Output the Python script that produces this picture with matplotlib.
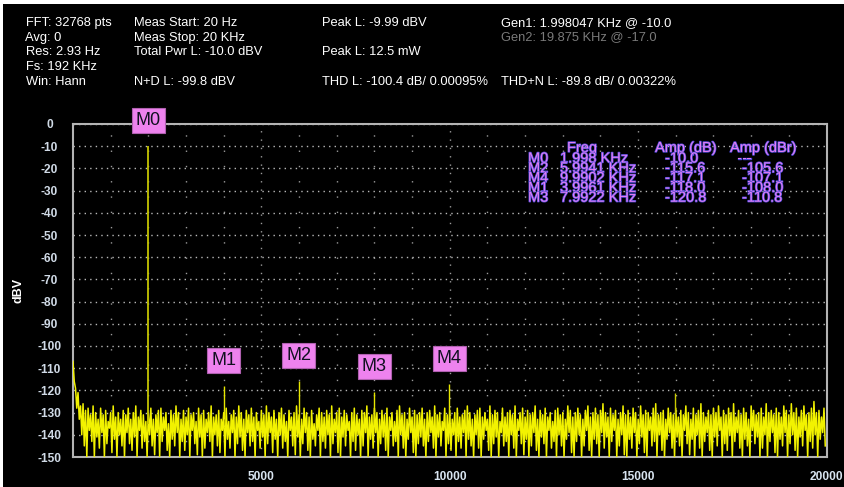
import numpy as np
import matplotlib
matplotlib.use("Agg")
import matplotlib.pyplot as plt
import matplotlib.patheffects as pe
from matplotlib.patches import Rectangle

# ---------------- data ----------------
fund_freq = 1998.047
fund_db = -10.0

marker_names = ["M0", "M1", "M2", "M3", "M4"]
marker_freq = [1998.0, 3996.1, 5994.1, 7992.2, 9990.2]
marker_db = [-10.0, -118.0, -115.6, -120.8, -117.1]

extra_spur_freq = [15984.4]
extra_spur_db = [-121.0]

# noise floor: local maxima and minima of the trace (dB), read across 0..20 kHz
noise_upper = [
    -107, -119, -121, -127, -126, -129, -128, -131, -127, -130, -133, -128, -131, -129, -134, -130, -127, -132, -130, -133,
    -129, -131, -128, -133, -130, -127, -132, -129, -131, -134, -130, -128, -133, -131, -129, -128, -132, -130, -135, -129,
    -131, -127, -130, -133, -129, -132, -128, -131, -130, -134, -128, -131, -129, -133, -130, -127, -132, -131, -129, -133,
    -130, -128, -134, -131, -129, -132, -127, -130, -133, -129, -131, -128, -132, -130, -134, -129, -131, -127, -130, -132,
    -129, -133, -130, -128, -131, -134, -129, -132, -130, -127, -131, -133, -128, -130, -132, -129, -135, -131, -128, -130,
    -132, -129, -131, -127, -133, -130, -128, -132, -129, -131, -134, -130, -128, -131, -133, -129, -130, -127, -132, -131,
    -128, -130, -133, -129, -131, -128, -132, -130, -134, -129, -127, -131, -130, -133, -128, -132, -129, -131, -130, -128,
    -133, -130, -129, -132, -127, -131, -130, -134, -128, -131, -129, -133, -130, -128, -132, -131, -129, -127, -130, -133,
    -131, -129, -128, -132, -130, -133, -127, -131, -129, -130, -134, -128, -132, -130, -129, -131, -127, -133, -130, -128,
    -132, -129, -131, -130, -127, -133, -129, -131, -128, -132, -130, -134, -129, -128, -131, -130, -133, -127, -129, -132,
    -130, -128, -131, -133, -129, -127, -132, -130, -128, -131, -129, -126, -130, -132, -128, -131, -129, -133, -130, -127,
    -131, -129, -132, -128, -130, -133, -127, -131, -129, -130, -132, -128, -126, -131, -130, -129, -133, -128, -130, -131,
    -128, -132, -129, -131, -127, -130, -133, -128, -131, -129, -126, -130, -132, -129, -131, -128, -130, -127, -132, -129,
    -131, -128, -130, -126, -132, -129, -131, -128, -130, -133, -127, -129, -131, -130, -128, -132, -126, -130, -129, -131,
    -128, -130, -132, -127, -129, -131, -126, -130, -128, -132, -129, -127, -131, -130, -128, -125, -130, -129, -132, -128,
]
noise_lower = [
    -116, -128, -133, -140, -145, -150, -138, -143, -150, -141, -146, -139, -150, -144, -137, -148, -142, -150, -140, -145,
    -150, -139, -144, -147, -141, -150, -138, -146, -143, -150, -140, -145, -149, -139, -150, -143, -138, -147, -150, -142,
    -145, -139, -150, -143, -147, -140, -150, -138, -144, -149, -141, -150, -146, -139, -143, -150, -140, -145, -148, -138,
    -150, -142, -146, -139, -150, -144, -141, -147, -150, -139, -145, -143, -150, -138, -146, -141, -150, -144, -139, -148,
    -142, -150, -140, -146, -143, -150, -138, -145, -149, -141, -150, -144, -139, -147, -150, -142, -145, -138, -150, -143,
    -146, -140, -150, -144, -139, -148, -150, -141, -145, -138, -150, -143, -147, -140, -150, -145, -139, -150, -142, -146,
    -139, -150, -144, -141, -147, -150, -138, -145, -143, -150, -140, -146, -150, -142, -139, -148, -150, -144, -141, -145,
    -150, -143, -139, -146, -150, -141, -145, -138, -150, -144, -147, -140, -150, -143, -146, -139, -150, -142, -145, -150,
    -140, -146, -150, -142, -138, -147, -150, -144, -141, -150, -139, -145, -143, -150, -140, -146, -150, -138, -144, -149,
    -142, -150, -145, -139, -147, -150, -141, -144, -150, -138, -146, -143, -150, -140, -145, -150, -142, -139, -148, -150,
    -143, -140, -150, -145, -138, -147, -150, -142, -144, -150, -139, -146, -141, -150, -143, -138, -150, -145, -140, -149,
    -150, -142, -146, -139, -150, -144, -141, -148, -150, -138, -145, -143, -150, -140, -147, -150, -142, -139, -146, -150,
    -141, -145, -150, -138, -144, -149, -142, -150, -140, -146, -150, -143, -139, -147, -150, -141, -145, -138, -150, -144,
    -147, -140, -150, -143, -139, -146, -150, -142, -145, -150, -138, -144, -141, -150, -146, -140, -150, -143, -139, -148,
    -150, -142, -145, -139, -150, -144, -140, -147, -150, -141, -145, -138, -150, -143, -146, -140, -150, -142, -139, -145,
]

x_ticks = [5000, 10000, 15000, 20000]
x_tick_labels = ["5000", "10000", "15000", "20000"]
y_ticks = list(range(0, -151, -10))

header_col1 = ["FFT: 32768 pts", "Avg: 0", "Res: 2.93 Hz", "Fs: 192 KHz", "Win: Hann"]
header_col2 = ["Meas Start: 20 Hz", "Meas Stop: 20 KHz", "Total Pwr L: -10.0 dBV", "", "N+D L: -99.8 dBV"]
header_col3 = ["Peak L: -9.99 dBV", "", "Peak L: 12.5 mW", "", "THD L: -100.4 dB/ 0.00095%"]
header_col4 = ["Gen1: 1.998047 KHz @ -10.0", "Gen2: 19.875 KHz @ -17.0", "", "", "THD+N L: -89.8 dB/ 0.00322%"]

table_names = ["M0", "M2", "M4", "M1", "M3"]
table_freq = ["1.998 KHz", "5.9941 KHz", "9.9902 KHz", "3.9961 KHz", "7.9922 KHz"]
table_amp = ["-10.0", "-115.6", "-117.1", "-118.0", "-120.8"]
table_dbr = ["---", "-105.6", "-107.1", "-108.0", "-110.8"]

# ---------------- figure ----------------
W, H = 844, 487
fig = plt.figure(figsize=(W / 100, H / 100), dpi=100)
fig.patch.set_facecolor("white")
fig.patches.append(Rectangle((3 / W, 0), 1, 1 - 4 / H, transform=fig.transFigure,
                             facecolor="black", edgecolor="none", zorder=-10))

def px(x, y):
    return x / W, 1 - y / H

FONT = ["Liberation Sans", "DejaVu Sans"]

# header text
rows_y = [23, 37.5, 52, 67, 82]
for i, t in enumerate(header_col1):
    fig.text(*px(26 if i != 1 else 25, rows_y[i]), t, color="white", fontsize=9.3,
             family=FONT, va="center", ha="left")
for i, t in enumerate(header_col2):
    if t:
        fig.text(*px(134, rows_y[i]), t, color="white", fontsize=9.3, family=FONT, va="center")
for i, t in enumerate(header_col3):
    if t:
        fig.text(*px(322, rows_y[i]), t, color="white", fontsize=9.3, family=FONT, va="center")
for i, t in enumerate(header_col4):
    if t:
        col = "#7a7a7a" if t.startswith("Gen2") else "white"
        fig.text(*px(501, rows_y[i]), t, color=col, fontsize=9.3, family=FONT, va="center")

# axes
L, R, T, B = 73, 826.5, 124, 457
ax = fig.add_axes([L / W, 1 - B / H, (R - L) / W, (B - T) / H])
ax.set_facecolor("black")
ax.set_xlim(0, 20000)
ax.set_ylim(-150, 0)
for s in ax.spines.values():
    s.set_color("#b4b4b4")
    s.set_linewidth(1.5)

ax.set_xticks(x_ticks)
ax.set_xticklabels(x_tick_labels)
ax.set_xticks(np.arange(1000, 20000, 1000), minor=True)
ax.set_yticks(y_ticks)
ax.set_yticklabels([str(v) for v in y_ticks])
ax.tick_params(axis="both", which="both", length=0)
ax.tick_params(axis="x", pad=10, labelsize=8.6, labelcolor="#d8e4f0")
ax.tick_params(axis="y", pad=17, labelsize=8.6, labelcolor="#d0dae6")
for lab in ax.get_xticklabels() + ax.get_yticklabels():
    lab.set_fontweight("bold")
    lab.set_family(FONT)
for lab in ax.get_yticklabels():
    lab.set_horizontalalignment("center")

ax.grid(which="minor", axis="x", color="#9a9a9a", linestyle=(0, (1, 10)), linewidth=1)
ax.grid(which="major", axis="x", color="#9a9a9a", linestyle=(0, (1, 5)), linewidth=1)
ax.grid(which="major", axis="y", color="#b8b8b8", linestyle=(0, (1, 3)), linewidth=1)
ax.set_axisbelow(True)

fig.text(18 / W, 1 - 290 / H, "dBV", rotation=90, color="white", fontsize=9,
         fontweight="bold", family=FONT, ha="center", va="center")

# noise trace
n = len(noise_upper)
step = 20000 / n
xu = np.arange(n) * step
xl = xu + step / 2
xs = np.empty(2 * n)
ys = np.empty(2 * n)
xs[0::2] = xu
xs[1::2] = xl
ys[0::2] = noise_upper
ys[1::2] = noise_lower
ax.plot(xs, ys, color="#f2f200", linewidth=1.1, zorder=3)

# fundamental and harmonic spikes
ax.vlines([fund_freq], -135, [fund_db], color="#c4c400", linewidth=1.3, zorder=4)
ax.vlines(marker_freq[1:], -133, marker_db[1:], color="#e6e600", linewidth=1.0, zorder=4)
ax.vlines(extra_spur_freq, -133, extra_spur_db, color="#c8c800", linewidth=1.0, zorder=4)

# marker labels
for name, f, d in zip(marker_names, marker_freq, marker_db):
    ax.text(f, d + 11.5, name, ha="center", va="center", fontsize=13, color="#101020",
            family=FONT, clip_on=False, zorder=6,
            bbox=dict(boxstyle="square,pad=0.22", fc="#ee82ee", ec="#b060b0", lw=0.8))

# marker table
tcol = "#e47ef2"
effects = [pe.withStroke(linewidth=1.0, foreground="#4a4ad8")]
def ttext(x, y, s):
    fig.text(*px(x, y), s, color=tcol, fontsize=10.5, family=FONT, va="baseline",
             ha="left", path_effects=effects, zorder=10)

ttext(567, 152, "Freq")
ttext(655, 152, "Amp (dB)")
ttext(730, 152, "Amp (dBr)")
for i in range(len(table_names)):
    yb = 162.5 + 9.8 * i
    ttext(528, yb, table_names[i])
    ttext(560, yb, table_freq[i])
    ttext(665, yb, table_amp[i])
    ttext(737 if table_dbr[i] == "---" else 742, yb, table_dbr[i])

fig.savefig("out.png", dpi=100, facecolor=fig.get_facecolor())
